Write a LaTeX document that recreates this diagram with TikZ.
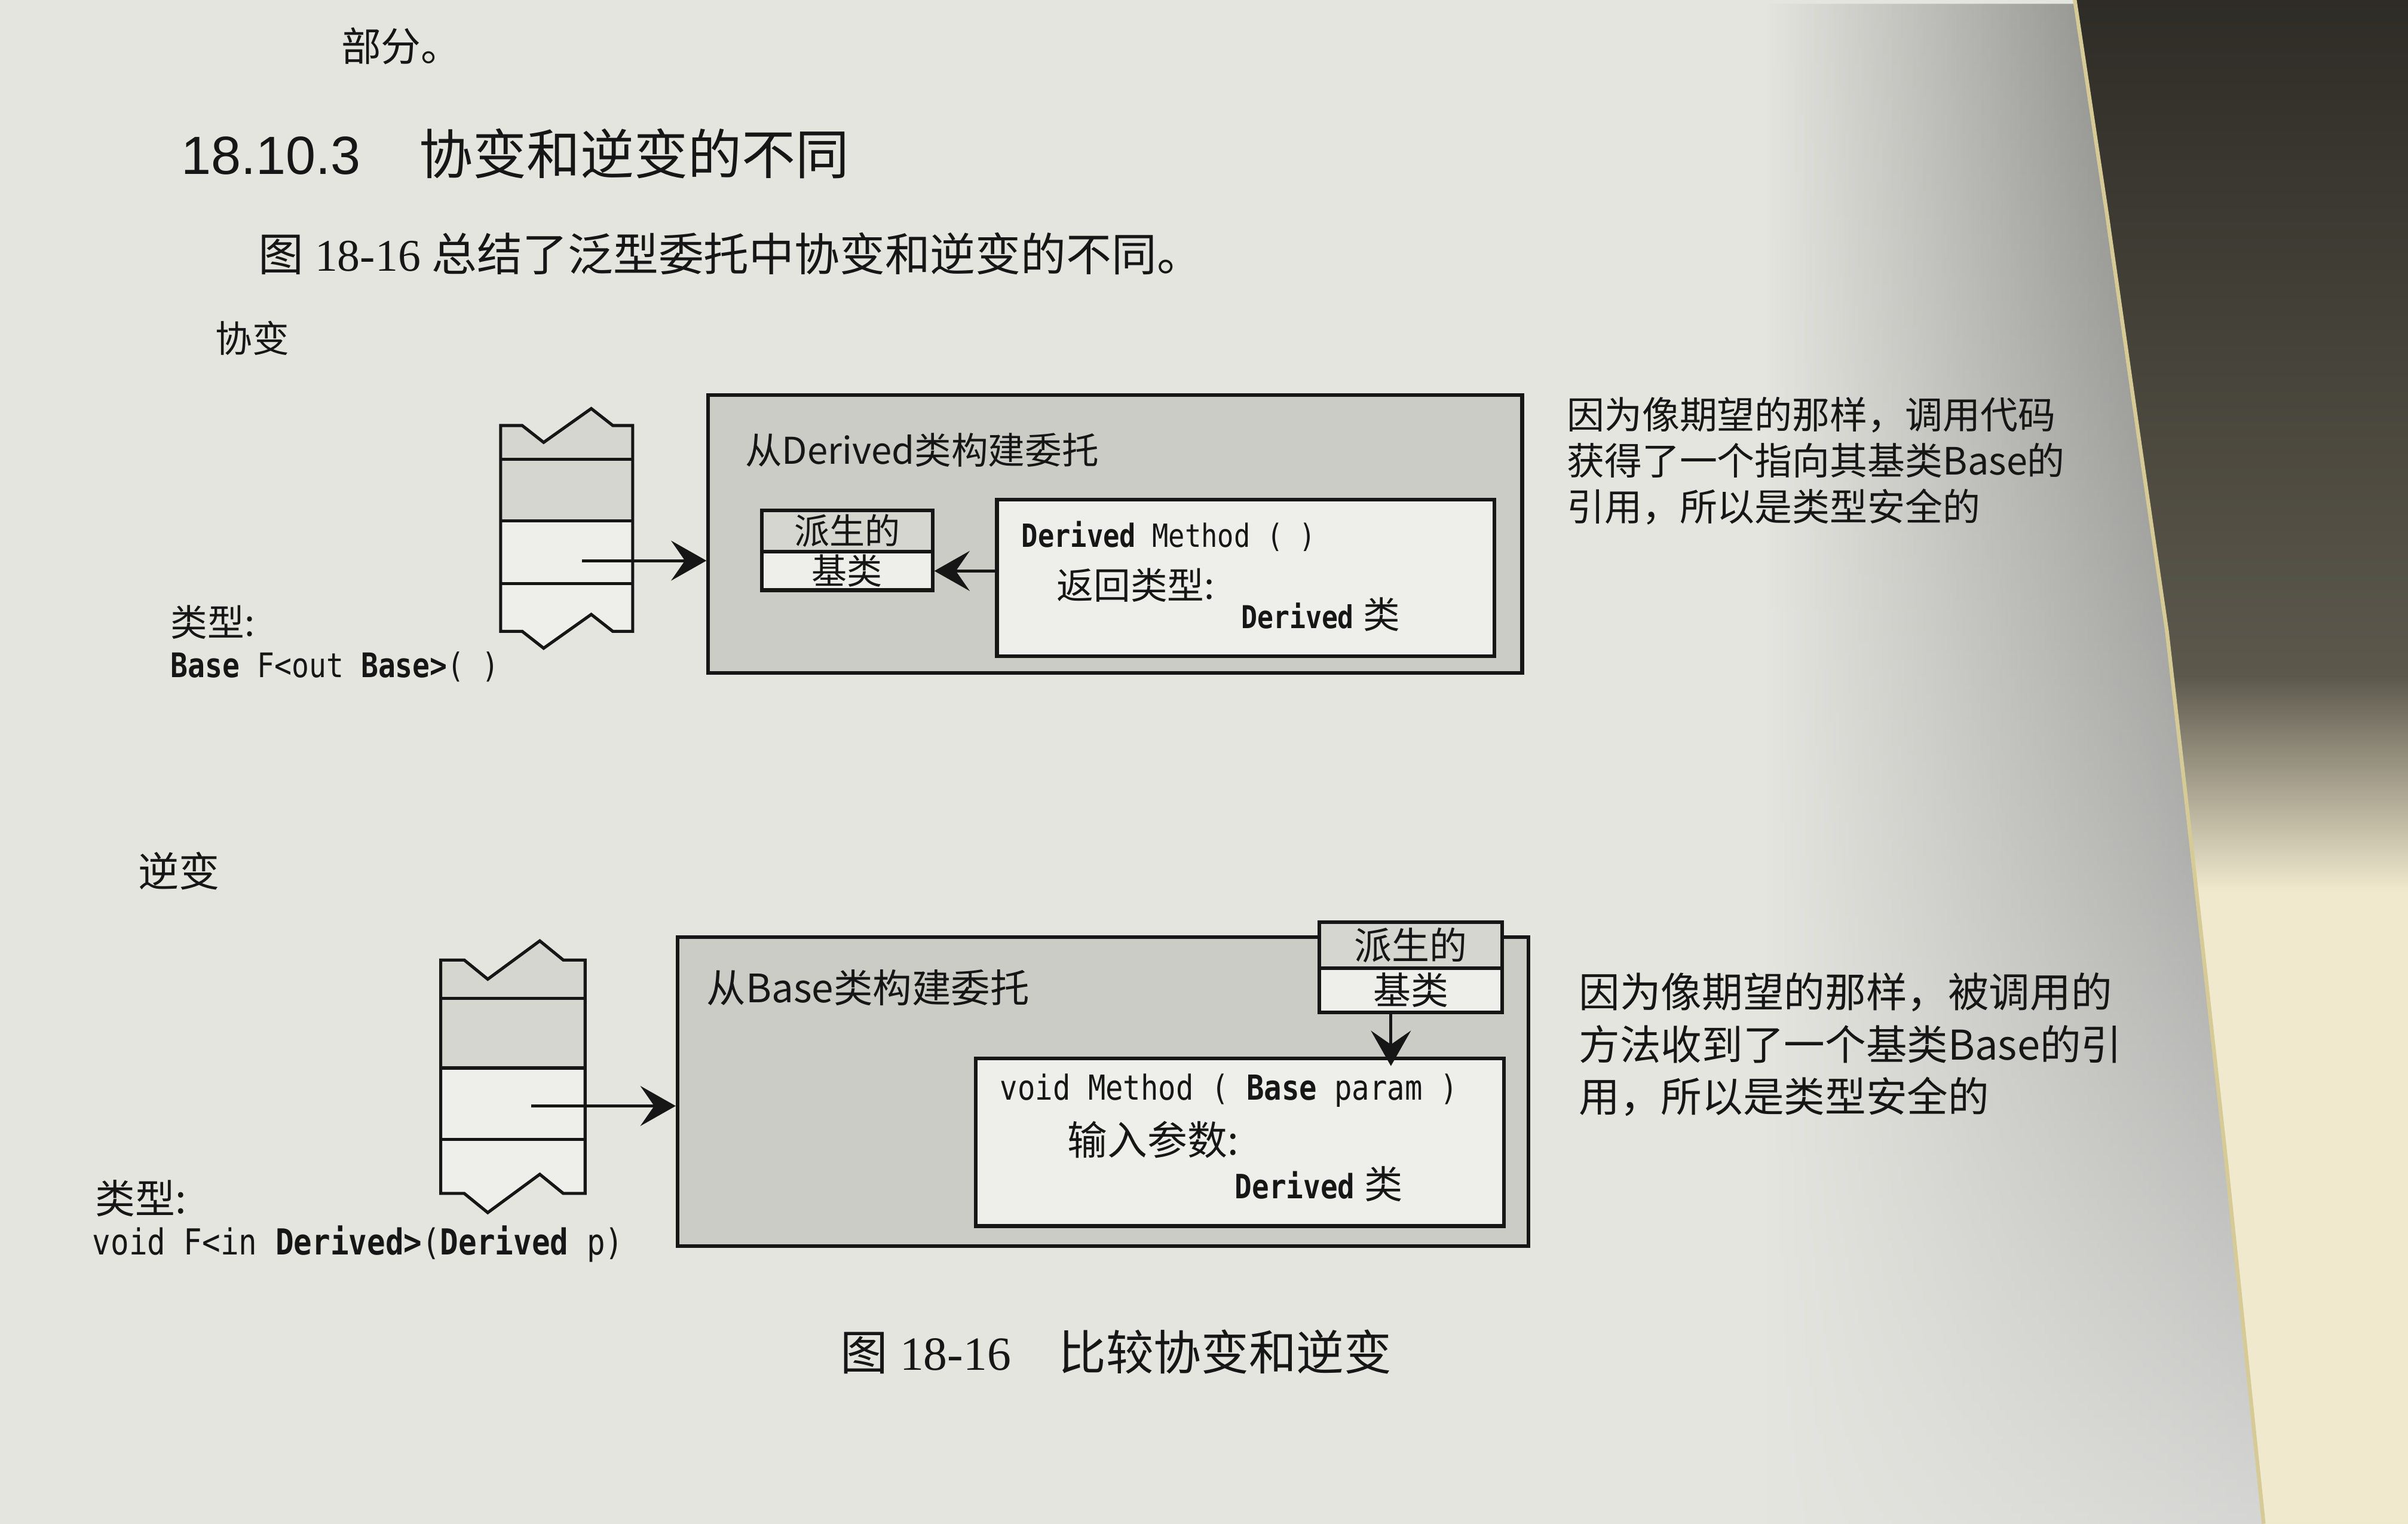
\documentclass[tikz,border=0pt]{standalone}
\usepackage{fontspec}
\setmainfont{Liberation Serif}
\setsansfont{Liberation Sans}
\setmonofont[FakeStretch=0.85]{DejaVu Sans Mono}
\newfontfamily\hei{Noto Sans CJK SC}
\usetikzlibrary{arrows.meta,fadings}

\definecolor{paper}{RGB}{229,229,224}
\definecolor{boxgray}{RGB}{204,204,199}
\definecolor{cellgray}{RGB}{214,214,209}
\definecolor{cellwhite}{RGB}{238,238,234}
\definecolor{ink}{RGB}{22,22,22}
\definecolor{nightpage}{RGB}{46,44,38}
\definecolor{dimpage}{RGB}{92,88,76}
\definecolor{cream}{RGB}{240,233,206}
\definecolor{pageedge}{RGB}{214,202,150}

\newcommand\fsz[2]{\fontsize{#1}{#2}\selectfont}

\tikzset{
  frame/.style={draw=ink, line width=2.4pt},
  tx/.style={inner sep=0pt, anchor=west, text=ink},
  cell/.style={frame, inner sep=0pt, anchor=north west},
  arr/.style={draw=ink, line width=2pt, -{Stealth[length=23pt,width=26pt,inset=9pt]}},
  stackline/.style={draw=ink, line width=2pt},
  pics/tornstack/.style={code={
    \fill[cellgray] (0,0)--(14,0)--(28,11)--(59,-11)--(73,0)--(86,0)--(86,62)--(0,62)--cycle;
    \fill[cellwhite] (0,62)--(86,62)--(86,134)--(73,134)--(59,123)--(28,145)--(14,134)--(0,134)--cycle;
    \draw[stackline] (0,0)--(14,0)--(28,11)--(59,-11)--(73,0)--(86,0)--(86,134)--(73,134)--(59,123)--(28,145)--(14,134)--(0,134)--cycle;
    \draw[stackline] (0,22)--(86,22) (0,62)--(86,62) (0,103)--(86,103);
  }},
}

\begin{document}
\begin{tikzpicture}[x=1pt,y=-1pt]
\useasboundingbox (0,0) rectangle (1568,992);
\fill[paper] (0,0) rectangle (1568,992);

% shadow of the curved page near the spine, darkest at the top
\shade[top color=black!90, middle color=black!75, bottom color=black!20,
       path fading=west, fill opacity=0.6]
  (1150,0)--(1351,0)--(1372,140)--(1392,280)--(1411,411)--(1428,560)--(1450,760)--(1474,992)--(1150,992)--cycle;

% facing page
\shade[top color=nightpage, bottom color=dimpage]
  (1351,0)--(1372,140)--(1392,280)--(1411,411)--(1414,440)--(1568,440)--(1568,0)--cycle;
\shade[top color=dimpage, bottom color=cream]
  (1414,440)--(1428,560)--(1431,580)--(1568,580)--(1568,440)--cycle;
\fill[cream] (1431,580)--(1450,760)--(1474,992)--(1568,992)--(1568,580)--cycle;
\draw[pageedge, line width=2.5pt]
  (1351,0)--(1372,140)--(1392,280)--(1411,411)--(1428,560)--(1450,760)--(1474,992);

% running text
\node[tx, font=\hei\fsz{26}{30}] (cont) at (222,30) {部分。};
\node[tx, font=\fsz{35}{40}] (title) at (118,100)
  {{\sffamily 18.10.3}\hspace{38pt}{\hei 协变和逆变的不同}};
\node[tx, font=\fsz{29.5}{34}] (intro) at (168,165)
  {{\hei 图} 18-16 {\hei 总结了泛型委托中协变和逆变的不同。}};

% ---------------- covariance ----------------
\node[tx, font=\hei\fsz{24}{28}] (covlbl) at (140,220) {协变};

\pic at (326,277) {tornstack};
\coordinate (cstk) at (379,365);

\node[cell, fill=boxgray, minimum width=530pt, minimum height=181pt] (cbig) at (460,256) {};
\node[tx, font=\hei\fsz{24}{28}] (cbigtxt) at (485,293) {从Derived类构建委托};

\node[cell, fill=cellgray, minimum width=111pt, minimum height=27pt] (cder) at (495,331) {};
\node[cell, fill=cellwhite, minimum width=111pt, minimum height=25pt] (cbase) at (495,358) {};
\node[inner sep=0pt, font=\hei\fsz{23}{26}, text=ink] (cdertxt) at (cder.center) {派生的};
\node[inner sep=0pt, font=\hei\fsz{23}{26}, text=ink] (cbasetxt) at (cbase.center) {基类};

\node[cell, fill=cellwhite, minimum width=324pt, minimum height=102pt] (cmeth) at (648,324) {};
\node[tx, font=\ttfamily\fsz{20.8}{24}] (cmsig) at (665,349) {{\bfseries Derived} Method ( )};
\node[tx, font=\hei\fsz{24}{28}] (cmret) at (688,381) {返回类型:};
\node[tx, font=\fsz{24}{28}] (cmtype) at (808,400) {{\ttfamily\bfseries\fsz{20.5}{24}Derived} {\hei 类}};

\draw[arr] (cstk) -- (cstk -| cbig.west);
\draw[arr] (cmeth.west |- cbase.east) -- (cbase.east);

\node[tx, align=left, font=\hei\fsz{24.5}{30}] (cnote) at (1020,300)
  {因为像期望的那样，调用代码\\获得了一个指向其基类Base的\\引用，所以是类型安全的};

\node[tx, font=\hei\fsz{24}{28}] (ctypelbl) at (111,405) {类型:};
\node[tx, font=\ttfamily\fsz{22}{26}] (ctype) at (111,434) {{\bfseries Base} F<out {\bfseries Base>}( )};

% ---------------- contravariance ----------------
\node[tx, font=\hei\fsz{26.5}{30}] (conlbl) at (90,567) {逆变};

\pic[xscale=1.093, yscale=1.134] at (287,625) {tornstack};
\coordinate (kstk) at (346,720);

\node[cell, fill=boxgray, minimum width=554pt, minimum height=201pt] (kbig) at (440,609) {};
\node[tx, font=\hei\fsz{25.5}{30}] (kbigtxt) at (460,643) {从Base类构建委托};

\node[cell, fill=cellgray, minimum width=119pt, minimum height=30pt] (kder) at (858,599) {};
\node[cell, fill=cellwhite, minimum width=119pt, minimum height=29pt] (kbase) at (858,629) {};
\node[inner sep=0pt, font=\hei\fsz{24.5}{28}, text=ink] (kdertxt) at (kder.center) {派生的};
\node[inner sep=0pt, font=\hei\fsz{24.5}{28}, text=ink] (kbasetxt) at (kbase.center) {基类};

\node[cell, fill=cellwhite, minimum width=344pt, minimum height=109pt] (kmeth) at (634,688) {};
\node[tx, font=\ttfamily\fsz{22.4}{26}] (kmsig) at (651,710) {void Method ( {\bfseries Base} param )};
\node[tx, font=\hei\fsz{26}{30}] (kmin) at (695,742) {输入参数:};
\node[tx, font=\fsz{25}{30}] (kmtype) at (804,771) {{\ttfamily\bfseries\fsz{21.8}{26}Derived} {\hei 类}};

\draw[arr] (kstk) -- (kstk -| kbig.west);
\draw[arr] ([xshift=-13pt]kbase.south) -- ([xshift=-13pt,yshift=-6pt]kbase.south |- kmeth.north);

\node[tx, align=left, font=\hei\fsz{26.7}{34}] (knote) at (1028,680)
  {因为像期望的那样，被调用的\\方法收到了一个基类Base的引\\用，所以是类型安全的};

\node[tx, font=\hei\fsz{26}{30}] (ktypelbl) at (62,780) {类型:};
\node[tx, font=\ttfamily\fsz{23.3}{28}] (ktype) at (60,810)
  {void F<in {\bfseries Derived>}({\bfseries Derived} p)};

% caption
\node[tx, font=\fsz{31}{36}] (caption) at (547,880)
  {{\hei 图} 18-16\hspace{31pt}{\hei 比较协变和逆变}};
\end{tikzpicture}
\end{document}
